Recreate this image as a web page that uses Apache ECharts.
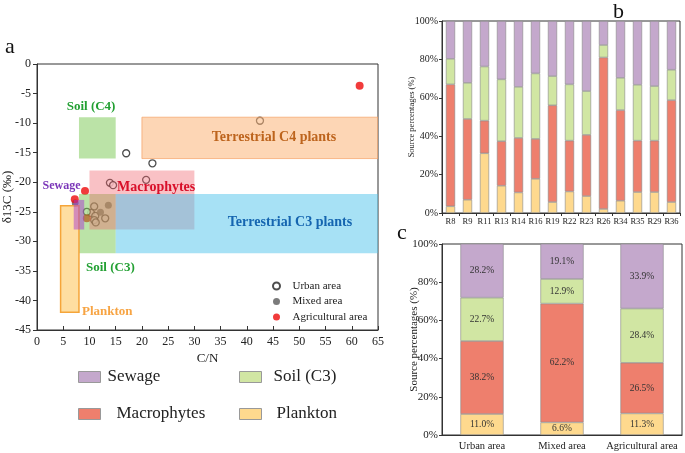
<!DOCTYPE html>
<html><head><meta charset="utf-8">
<script src="https://cdn.jsdelivr.net/npm/echarts/dist/echarts.min.js"></script>
<style>html,body{margin:0;padding:0;background:#fff}#chart{width:685px;height:453px}</style>
</head><body><div id="chart"></div>
<script>
// ---------- Panel a data ----------
const urbanPts = [[17.0,-15.1],[22.0,-16.8],[42.5,-9.6],[20.8,-19.6],[13.9,-20.1],[14.5,-20.5],
  [10.9,-24.1],[10.3,-25.2],[11.1,-25.7],[10.9,-26.4],[11.2,-26.8],[13.0,-26.1],[9.5,-25.0]];
const mixedPts = [[13.6,-23.9],[12.1,-25.1],[7.3,-23.5]];
const agriPts = [[61.5,-3.7],[9.15,-21.5],[7.2,-22.9],[9.5,-26.1]];
// source boxes: [xMin, xMax, yMin, yMax]
const boxNames = ['Soil (C4)','Soil (C3)','Terrestrial C4 plants','Macrophytes','Terrestrial C3 plants','Plankton','Sewage'];
const boxSoilC4 = [8,15,-16,-9];
const boxSoilC3 = [8,15,-32,-22];
const boxTerrC4 = [20,65,-16,-9];
const boxMacro = [10,30,-28,-18];
const boxTerrC3 = [15,65,-32,-22];
const boxPlankton = [4.5,8,-42,-24];
const boxSewage = [7,9,-28,-23];
const xTicksA = {min:0, max:65, interval:5};
const yTicksA = {min:-45, max:0, interval:5};

// ---------- Panel b data ----------
const bCats = ['R8','R9','R11','R13','R14','R16','R19','R22','R23','R26','R34','R35','R29','R36'];
const bPlankton = [3.5,6.9,31.1,14.2,10.7,17.8,5.7,11.2,8.8,2.1,6.4,10.9,10.9,5.7];
const bMacro = [63.5,42.1,17.0,23.2,28.4,20.8,50.4,26.5,31.9,78.9,47.2,26.8,26.8,53.1];
const bSoil = [13.3,18.8,28.2,32.2,26.6,34.1,15.2,29.3,22.8,6.5,16.8,29.1,28.4,15.8];
const bSewage = [19.7,32.2,23.7,30.4,34.3,27.3,28.7,33.0,36.5,12.5,29.6,33.2,33.9,25.4];

// ---------- Panel c data ----------
const cCats = ['Urban area','Mixed area','Agricultural area'];
const cPlankton = [11.0,6.6,11.3];
const cMacro = [38.2,62.2,26.5];
const cSoil = [22.7,12.9,28.4];
const cSewage = [28.2,19.1,33.9];

// ---------- styles ----------
const SERIF = '"Liberation Serif","Times New Roman",serif';
const boxStyles = [
  {fill:'rgba(120,200,80,0.5)'},
  {fill:'rgba(120,200,80,0.5)'},
  {fill:'rgba(252,180,120,0.55)', stroke:'rgba(245,160,100,0.7)', lw:1},
  {fill:'rgba(240,100,110,0.4)'},
  {fill:'rgba(80,195,235,0.5)'},
  {fill:'rgba(253,205,110,0.65)', stroke:'#f5a53a', lw:1.5},
  {fill:'rgba(170,60,210,0.5)'}
];
const srcColors = {Sewage:'#c4a8cc', Soil:'#d1e6a3', Macro:'#ee7f6d', Plankton:'#fed98e'};
const barBorder = {borderColor:'#8a8a8a', borderWidth:0.6};

const chart = echarts.init(document.getElementById('chart'), null, {renderer:'canvas'});

function axisCommon(fs){
  return {
    axisLine:{show:true, onZero:false, lineStyle:{color:'#333', width:1}},
    axisLabel:{color:'#222', fontFamily:SERIF, fontSize:fs},
    splitLine:{show:false},
    nameMoveOverlap:false,
    nameTextStyle:{color:'#222', fontFamily:SERIF}
  };
}

function barSeries(name, data, color, xi, yi, withLabel){
  return {
    type:'bar', name:name, data:data, xAxisIndex:xi, yAxisIndex:yi, stack:'s'+xi,
    barWidth:'54%',
    itemStyle:Object.assign({color:color}, barBorder),
    label: withLabel ? {show:true, position:'inside', color:'#333', fontFamily:SERIF, fontSize:9.5,
      formatter: p => p.value.toFixed(1)+'%'} : {show:false},
    emphasis:{disabled:true}
  };
}

const boxData = [boxSoilC4, boxSoilC3, boxTerrC4, boxMacro, boxTerrC3, boxPlankton, boxSewage];

function ann(text, x, y, color, fs, align){
  return {type:'text', x:x, y:y, z:100,
    style:{text:text, fill:color, font:'bold '+fs+'px '+SERIF, textAlign:align||'left', textVerticalAlign:'middle'}};
}

function srcLegend(name, left, top, pad){
  return {data:[{name:name, icon:'rect'}], left:left, top:top, itemWidth:22, itemHeight:11, selectedMode:false, padding:0,
    itemStyle:{borderColor:'#999', borderWidth:1},
    textStyle:{fontFamily:SERIF, fontSize:17, color:'#222', lineHeight:20, padding:[0,0,0,pad]}};
}

const option = {
  animation:false,
  backgroundColor:'#fff',
  grid:[
    {left:37, top:64, width:341, height:266, show:true, borderColor:'#333', borderWidth:1, backgroundColor:'transparent'},
    {left:442, top:21, width:238, height:192, show:true, borderColor:'#333', borderWidth:1, backgroundColor:'transparent'},
    {left:442, top:244, width:240, height:191, show:true, borderColor:'#333', borderWidth:1, backgroundColor:'transparent'}
  ],
  xAxis:[
    Object.assign(axisCommon(12), {type:'value', gridIndex:0, min:xTicksA.min, max:xTicksA.max, interval:xTicksA.interval,
      name:'C/N', nameLocation:'middle', nameGap:22, nameTextStyle:{color:'#222', fontFamily:SERIF, fontSize:13},
      axisTick:{show:true, inside:true, length:4, lineStyle:{color:'#333'}}, axisLabel:{color:'#222', fontFamily:SERIF, fontSize:12, margin:6}}),
    Object.assign(axisCommon(8.5), {type:'category', gridIndex:1, data:bCats,
      axisTick:{show:true, length:3, lineStyle:{color:'#333'}}, axisLabel:{color:'#222', fontFamily:SERIF, fontSize:8.5, margin:4, interval:0}}),
    Object.assign(axisCommon(10), {type:'category', gridIndex:2, data:cCats,
      axisTick:{show:false}, axisLabel:{color:'#222', fontFamily:SERIF, fontSize:10.5, margin:6, interval:0}})
  ],
  yAxis:[
    Object.assign(axisCommon(12), {type:'value', gridIndex:0, min:yTicksA.min, max:yTicksA.max, interval:yTicksA.interval,
      name:'δ13C (‰)', nameLocation:'middle', nameGap:23, nameRotate:90, nameTextStyle:{color:'#222', fontFamily:SERIF, fontSize:13},
      axisTick:{show:true, inside:false, length:4, lineStyle:{color:'#333'}}, axisLabel:{color:'#222', fontFamily:SERIF, fontSize:12, margin:6}}),
    Object.assign(axisCommon(10), {type:'value', gridIndex:1, min:0, max:100, interval:20,
      name:'Source percentages (%)', nameLocation:'middle', nameGap:26, nameRotate:90, nameTextStyle:{color:'#222', fontFamily:SERIF, fontSize:8.5},
      axisTick:{show:true, length:3, lineStyle:{color:'#333'}}, axisLabel:{color:'#222', fontFamily:SERIF, fontSize:10, margin:4, formatter:'{value}%'}}),
    Object.assign(axisCommon(11), {type:'value', gridIndex:2, min:0, max:100, interval:20,
      name:'Source percentages (%)', nameLocation:'middle', nameGap:22, nameRotate:90, nameTextStyle:{color:'#222', fontFamily:SERIF, fontSize:11},
      axisTick:{show:true, length:3, lineStyle:{color:'#333'}}, axisLabel:{color:'#222', fontFamily:SERIF, fontSize:11, margin:4, formatter:'{value}%'}})
  ],
  legend:[
    {data:['Urban area','Mixed area','Agricultural area'], orient:'vertical', left:267, top:274, itemWidth:14, itemHeight:7, itemGap:1.5,
      selectedMode:false, textStyle:{fontFamily:SERIF, fontSize:11, color:'#222', lineHeight:14, padding:[0,0,0,4]}},
    srcLegend('Sewage', 78, 367, 2),
    srcLegend('Soil (C3)', 239, 367, 7),
    srcLegend('Macrophytes', 78, 404, 11),
    srcLegend('Plankton', 239, 404, 10)
  ],
  series:[
    {type:'scatter', name:'Urban area', xAxisIndex:0, yAxisIndex:0, data:urbanPts, z:1, symbol:'circle', symbolSize:7,
      itemStyle:{color:'#fff', borderColor:'#222', borderWidth:1.3}},
    {type:'scatter', name:'Mixed area', xAxisIndex:0, yAxisIndex:0, data:mixedPts, z:1, symbol:'circle', symbolSize:7,
      itemStyle:{color:'#5a5a5a'}},
    {type:'scatter', name:'Agricultural area', xAxisIndex:0, yAxisIndex:0, data:agriPts, z:1, symbol:'circle', symbolSize:8,
      itemStyle:{color:'#ee0a0a'}},
    {type:'custom', name:'boxes', xAxisIndex:0, yAxisIndex:0, z:3, data:boxData, clip:true,
      encode:{x:[0,1], y:[2,3]},
      renderItem:function(params, api){
        const p1 = api.coord([api.value(0), api.value(3)]);
        const p2 = api.coord([api.value(1), api.value(2)]);
        const st = boxStyles[params.dataIndex];
        return {type:'rect', shape:{x:p1[0], y:p1[1], width:p2[0]-p1[0], height:p2[1]-p1[1]},
          style:{fill:st.fill, stroke:st.stroke||null, lineWidth:st.lw||0}};
      }},
    barSeries('Plankton', bPlankton, srcColors.Plankton, 1, 1, false),
    barSeries('Macrophytes', bMacro, srcColors.Macro, 1, 1, false),
    barSeries('Soil (C3)', bSoil, srcColors.Soil, 1, 1, false),
    barSeries('Sewage', bSewage, srcColors.Sewage, 1, 1, false),
    barSeries('Plankton', cPlankton, srcColors.Plankton, 2, 2, true),
    barSeries('Macrophytes', cMacro, srcColors.Macro, 2, 2, true),
    barSeries('Soil (C3)', cSoil, srcColors.Soil, 2, 2, true),
    barSeries('Sewage', cSewage, srcColors.Sewage, 2, 2, true)
  ],
  graphic:[
    {type:'text', x:5, y:58, style:{text:'a', font:'22px '+SERIF, fill:'#111', textVerticalAlign:'bottom'}},
    {type:'text', x:613, y:23, style:{text:'b', font:'22px '+SERIF, fill:'#111', textVerticalAlign:'bottom'}},
    {type:'text', x:397, y:244, style:{text:'c', font:'22px '+SERIF, fill:'#111', textVerticalAlign:'bottom'}},
    ann('Soil (C4)', 66.7, 107, '#23a033', 13),
    ann('Terrestrial C4 plants', 274, 137, '#bd641d', 14, 'center'),
    ann('Macrophytes', 117, 187, '#d8102a', 14),
    ann('Sewage', 42.5, 186, '#7a35b8', 12),
    ann('Terrestrial C3 plants', 290, 222, '#1565b0', 14, 'center'),
    ann('Soil (C3)', 86, 268, '#23a033', 13),
    ann('Plankton', 82, 312, '#f7a443', 13)
  ]
};
chart.setOption(option);
</script></body></html>
